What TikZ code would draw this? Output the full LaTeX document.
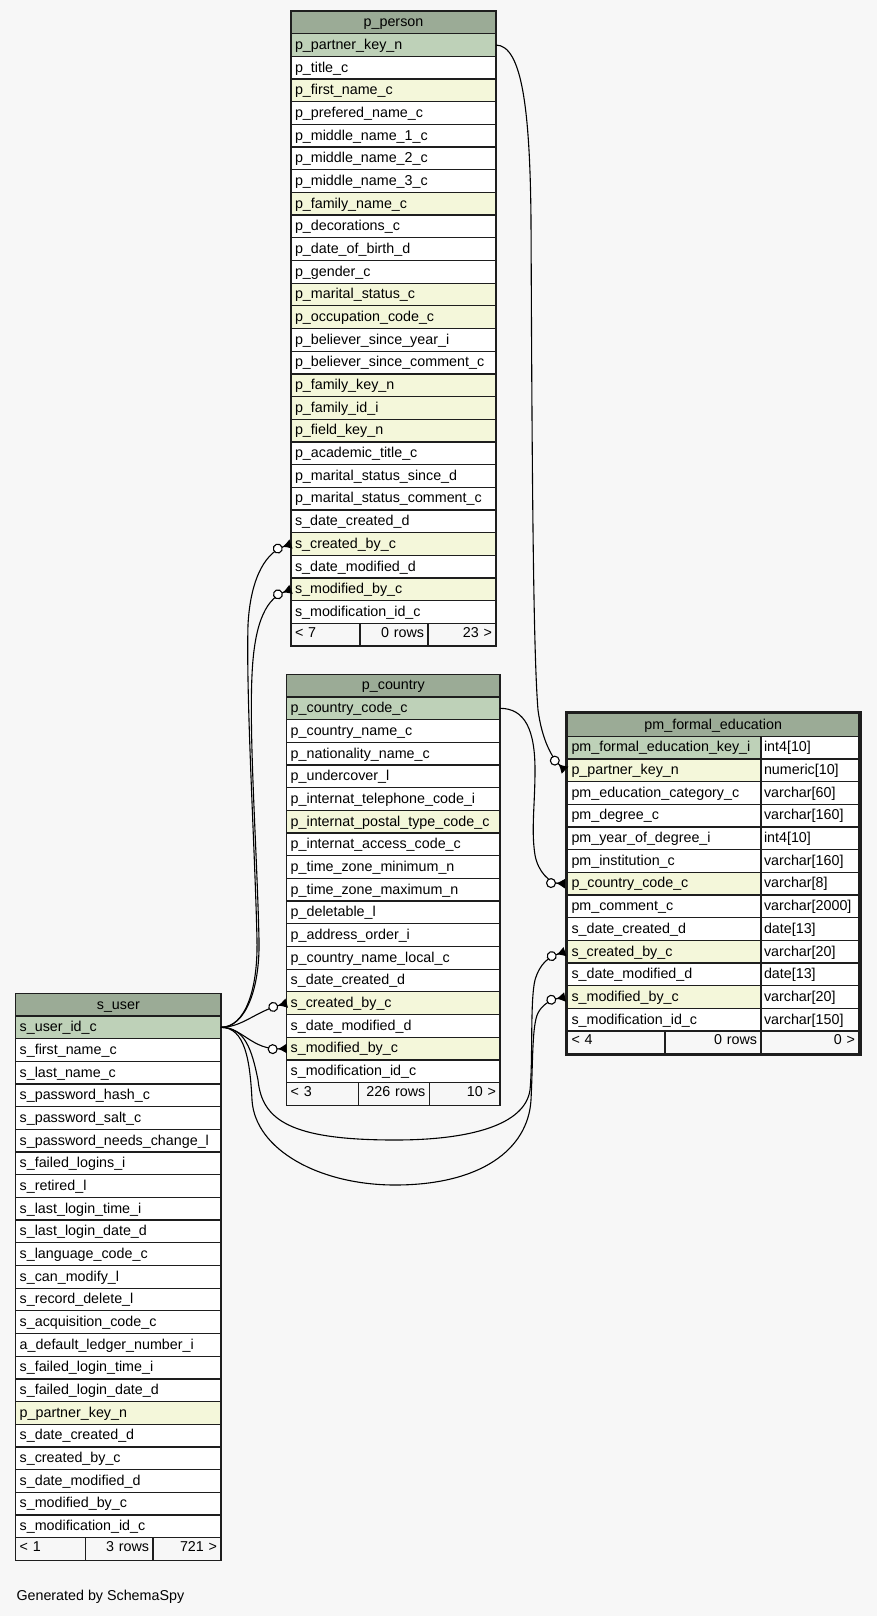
\documentclass[tikz,border=0pt]{standalone}
\usepackage{fontspec}
\setmainfont{Liberation Sans}
\usetikzlibrary{arrows.meta}
\definecolor{bg}{HTML}{F7F7F7}
\definecolor{hdrc}{HTML}{9BAB96}
\definecolor{keyc}{HTML}{BED1B8}
\definecolor{idxc}{HTML}{F4F7DA}
\definecolor{edgec}{HTML}{1E1E1E}
\newcommand\tabfont{\fontsize{14.3}{16}\selectfont}
\def\rh{22.68}
\tikzset{
  cell/.style={draw=edgec, line width=1.3pt, inner xsep=4pt, inner ysep=0pt, outer sep=0pt,
    minimum height=22.68pt, text height=11pt, text depth=2.3pt, anchor=north west, font=\tabfont},
  fcell/.style={cell, fill=bg, text height=11pt, text depth=6.3pt},
  fk/.style={draw=black, line width=1.1pt,
    -{Circle[open,fill=white,length=10pt,width=10pt,sep=0pt]Latex[reversed,length=9pt,width=10pt]}}
}
\newcommand\dbtable[6]{%
  \pgfmathsetmacro\tblW{#3-#2}%
  \pgfmathsetmacro\tblTW{#3-#2-8}%
  \node[cell,fill=hdrc,minimum width=\tblW pt,text width=\tblTW pt,align=center] (#1-h) at (#2,#4) {#5};
  \foreach \fc/\txt [count=\i from 0] in {#6} {
    \node[cell,fill=\fc,minimum width=\tblW pt,text width=\tblTW pt,align=left] (#1-\i) at (#2,{#4+\rh*(\i+1)}) {\txt};
  }
}
\newcommand\dbfoot[9]{%
  \pgfmathsetmacro\fwA{#3-#2}\pgfmathsetmacro\ftA{#3-#2-8}%
  \pgfmathsetmacro\fwB{#4-#3}\pgfmathsetmacro\ftB{#4-#3-8}%
  \pgfmathsetmacro\fwC{#5-#4}\pgfmathsetmacro\ftC{#5-#4-8}%
  \node[fcell,minimum width=\fwA pt,text width=\ftA pt,align=left] (#1-fa) at (#2,#6) {#7};
  \node[fcell,minimum width=\fwB pt,text width=\ftB pt,align=right] (#1-fb) at (#3,#6) {#8};
  \node[fcell,minimum width=\fwC pt,text width=\ftC pt,align=right] (#1-fc) at (#4,#6) {#9};
}
\catcode`\_=12
\begin{document}
\begin{tikzpicture}[x=1pt,y=-1pt]
\useasboundingbox (0,0) rectangle (877,1616);
\fill[bg] (0,0) rectangle (877,1616);

% p_person
\dbtable{pp}{291}{496}{11}{p_person}{keyc/p_partner_key_n, white/p_title_c, idxc/p_first_name_c, white/p_prefered_name_c, white/p_middle_name_1_c, white/p_middle_name_2_c, white/p_middle_name_3_c, idxc/p_family_name_c, white/p_decorations_c, white/p_date_of_birth_d, white/p_gender_c, idxc/p_marital_status_c, idxc/p_occupation_code_c, white/p_believer_since_year_i, white/p_believer_since_comment_c, idxc/p_family_key_n, idxc/p_family_id_i, idxc/p_field_key_n, white/p_academic_title_c, white/p_marital_status_since_d, white/p_marital_status_comment_c, white/s_date_created_d, idxc/s_created_by_c, white/s_date_modified_d, idxc/s_modified_by_c, white/s_modification_id_c}
\dbfoot{pp}{291}{360}{428}{496}{623.4}{< 7}{0 rows}{23 >}

% p_country
\dbtable{pc}{286.7}{500}{674.3}{p_country}{keyc/p_country_code_c, white/p_country_name_c, white/p_nationality_name_c, white/p_undercover_l, white/p_internat_telephone_code_i, idxc/p_internat_postal_type_code_c, white/p_internat_access_code_c, white/p_time_zone_minimum_n, white/p_time_zone_maximum_n, white/p_deletable_l, white/p_address_order_i, white/p_country_name_local_c, white/s_date_created_d, idxc/s_created_by_c, white/s_date_modified_d, idxc/s_modified_by_c, white/s_modification_id_c}
\dbfoot{pc}{286.7}{358.7}{429.3}{500}{1082.5}{< 3}{226 rows}{10 >}

% s_user
\dbtable{su}{15.7}{221}{993.3}{s_user}{keyc/s_user_id_c, white/s_first_name_c, white/s_last_name_c, white/s_password_hash_c, white/s_password_salt_c, white/s_password_needs_change_l, white/s_failed_logins_i, white/s_retired_l, white/s_last_login_time_i, white/s_last_login_date_d, white/s_language_code_c, white/s_can_modify_l, white/s_record_delete_l, white/s_acquisition_code_c, white/a_default_ledger_number_i, white/s_failed_login_time_i, white/s_failed_login_date_d, idxc/p_partner_key_n, white/s_date_created_d, white/s_created_by_c, white/s_date_modified_d, white/s_modified_by_c, white/s_modification_id_c}
\dbfoot{su}{15.7}{85.7}{153}{221}{1537.6}{< 1}{3 rows}{721 >}

% pm_formal_education
\node[cell,fill=hdrc,minimum width=291.5pt,text width=283.5pt,align=center] (pfe-h) at (567.5,713.5) {pm_formal_education};
\foreach \fc/\txt/\typ [count=\i from 0] in {keyc/pm_formal_education_key_i/int4[10], idxc/p_partner_key_n/numeric[10], white/pm_education_category_c/varchar[60], white/pm_degree_c/varchar[160], white/pm_year_of_degree_i/int4[10], white/pm_institution_c/varchar[160], idxc/p_country_code_c/varchar[8], white/pm_comment_c/varchar[2000], white/s_date_created_d/date[13], idxc/s_created_by_c/varchar[20], white/s_date_modified_d/date[13], idxc/s_modified_by_c/varchar[20], white/s_modification_id_c/varchar[150]} {
  \node[cell,fill=\fc,minimum width=193.5pt,text width=185.5pt,align=left] (pfe-\i) at (567.5,{713.5+\rh*(\i+1)}) {\txt};
  \node[cell,fill=white,inner xsep=3pt,minimum width=98pt,text width=92pt,align=left] (pfe-\i-t) at (761,{713.5+\rh*(\i+1)}) {\typ};
}
\dbfoot{pfe}{567.5}{665}{761}{859}{1031}{< 4}{0 rows}{0 >}
\draw[edgec,line width=2.6pt] (566.2,712.2) rectangle (860.3,1055);

% connectors
\draw[fk] (pp-0.east) .. controls (522,45.4) and (530,110) .. (531,220)
  .. controls (532,450) and (533,650) .. (538,710)
  .. controls (542,740) and (552,758) .. ([xshift=-2.5pt]pfe-1.west);
\draw[fk] (pc-0.east) .. controls (525,708.3) and (535,730) .. (535,770)
  .. controls (535,805) and (531,830) .. (535,855)
  .. controls (538,872) and (550,883) .. ([xshift=-2.5pt]pfe-6.west);
\draw[fk] (su-0.east) .. controls (245,1027.3) and (258,990) .. (257,940)
  .. controls (255,850) and (246,700) .. (248,625)
  .. controls (250,585) and (262,554) .. (pp-22.west);
\draw[fk] (su-0.east) .. controls (245,1027.3) and (260,990) .. (259,940)
  .. controls (257,850) and (249,740) .. (252,675)
  .. controls (254,630) and (263,600) .. (pp-24.west);
\draw[fk] (su-0.east) .. controls (242,1027.3) and (255,1012) .. (pc-13.west);
\draw[fk] (su-0.east) .. controls (242,1027.3) and (252,1050) .. (pc-15.west);
\draw[fk] (su-0.east) .. controls (245,1027.3) and (252,1050) .. (258,1080)
  .. controls (262,1120) and (290,1140) .. (395,1140)
  .. controls (470,1140) and (525,1125) .. (530,1090)
  .. controls (533,1060) and (530,1000) .. (535,980)
  .. controls (540,963) and (549,957) .. ([xshift=-2.5pt]pfe-9.west);
\draw[fk] (su-0.east) .. controls (245,1027.3) and (250,1060) .. (252,1100)
  .. controls (255,1150) and (320,1185) .. (395,1185)
  .. controls (480,1185) and (528,1150) .. (531,1100)
  .. controls (533,1060) and (532,1025) .. (538,1013)
  .. controls (542,1005) and (550,1000) .. ([xshift=-2.5pt]pfe-11.west);

\node[anchor=base west,font=\tabfont,inner sep=0pt] (gen) at (16.3,1600.5) {Generated by SchemaSpy};
\end{tikzpicture}
\end{document}
